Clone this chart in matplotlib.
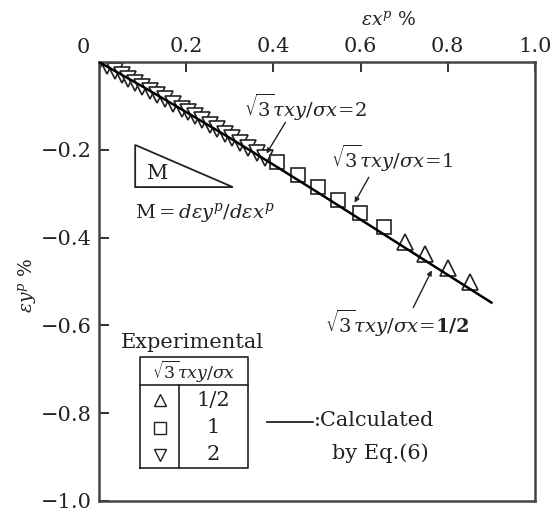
import matplotlib
matplotlib.use("Agg")
import matplotlib.pyplot as plt
from matplotlib.patches import Polygon

plt.rcParams['font.family'] = 'DejaVu Serif'
plt.rcParams['mathtext.fontset'] = 'dejavuserif'

# calculated curve, Eq.(6)
calc_x = [0.0, 0.1, 0.2, 0.3, 0.4, 0.5, 0.6, 0.7, 0.8, 0.9]
calc_y = [0.0, -0.056, -0.114, -0.173, -0.234, -0.296, -0.359, -0.422, -0.485, -0.548]

# experimental, sqrt(3) tau/sigma = 2
ratio2_x = [0.0, 0.018, 0.037, 0.053, 0.067, 0.083, 0.099, 0.117, 0.133, 0.151, 0.170, 0.190,
            0.204, 0.220, 0.236, 0.255, 0.271, 0.289, 0.305, 0.323, 0.342, 0.362, 0.381]
ratio2_y = [0.0, -0.010, -0.021, -0.030, -0.038, -0.047, -0.056, -0.066, -0.075, -0.085, -0.096, -0.107,
            -0.115, -0.124, -0.133, -0.144, -0.153, -0.164, -0.173, -0.184, -0.195, -0.207, -0.218]

# sqrt(3) tau/sigma = 1
ratio1_x = [0.408, 0.456, 0.502, 0.548, 0.599, 0.654]
ratio1_y = [-0.228, -0.257, -0.285, -0.314, -0.344, -0.376]

# sqrt(3) tau/sigma = 1/2
ratio05_x = [0.702, 0.748, 0.800, 0.851]
ratio05_y = [-0.410, -0.437, -0.469, -0.501]

table_marks = ['^', 's', 'v']
table_vals = ['1/2', '1', '2']

ink = '#222222'
fs = 15

fig = plt.figure(figsize=(5.58, 5.11), dpi=100)
ax = fig.add_axes([0.1774, 0.0196, 0.7814, 0.8591])

mk = dict(ls='none', mfc='white', mec=ink, mew=1.2)
ax.plot(ratio2_x, ratio2_y, marker='v', ms=11, **mk)
ax.plot(ratio1_x, ratio1_y, marker='s', ms=9.5, **mk)
ax.plot(ratio05_x, ratio05_y, marker='^', ms=11, **mk)
ax.plot(calc_x, calc_y, color='black', lw=1.8, zorder=3)

ax.set_xlim(0, 1.0)
ax.set_ylim(-1.0, 0)
ax.xaxis.tick_top()
ax.set_xticks([0.2, 0.4, 0.6, 0.8, 1.0])
ax.set_xticklabels(['0.2', '0.4', '0.6', '0.8', '1.0'])
ax.set_yticks([-0.2, -0.4, -0.6, -0.8, -1.0])
ax.set_yticklabels(['\u22120.2', '\u22120.4', '\u22120.6', '\u22120.8', '\u22121.0'])
ax.tick_params(direction='in', length=7, width=1.3, colors=ink, labelsize=fs, pad=5)
ax.tick_params(axis='x', pad=4)
for s in ax.spines.values():
    s.set_linewidth(1.8)
    s.set_color('#444444')

ax.text(-0.037, 1.034, '0', transform=ax.transAxes, ha='center', va='center',
        fontsize=fs, color=ink)
ax.text(0.665, 1.095, r'$\varepsilon x^{p}$ %', transform=ax.transAxes, ha='center',
        va='center', fontsize=13.5, color=ink)
ax.text(-0.165, 0.492, r'$\varepsilon y^{p}$ %', transform=ax.transAxes, ha='center',
        va='center', rotation=90, fontsize=13.5, color=ink)

# ratio labels with leaders
lab = r'$\sqrt{3}\tau xy/\sigma x\!=\!%s$'
arrow = dict(arrowstyle='-|>', color=ink, lw=1.0, mutation_scale=7)
ax.text(0.472, -0.103, lab % '2', ha='center', va='center', fontsize=14, color=ink)
ax.annotate('', xy=(0.381, -0.214), xytext=(0.431, -0.132), arrowprops=arrow)
ax.text(0.672, -0.22, lab % '1', ha='center', va='center', fontsize=14, color=ink)
ax.annotate('', xy=(0.583, -0.326), xytext=(0.622, -0.257), arrowprops=arrow)
ax.text(0.683, -0.595, lab % '\\mathbf{1/2}', ha='center', va='center', fontsize=14, color=ink)
ax.annotate('', xy=(0.766, -0.469), xytext=(0.718, -0.565), arrowprops=arrow)

# slope triangle
ax.add_patch(Polygon([(0.083, 0.811), (0.083, 0.715), (0.307, 0.715)], closed=True,
                     fill=False, ec=ink, lw=1.3, transform=ax.transAxes))
ax.text(0.135, 0.745, 'M', transform=ax.transAxes, ha='center', va='center',
        fontsize=fs, color=ink)
ax.text(0.243, 0.655, r'M$=d\varepsilon y^{p}/d\varepsilon x^{p}$', transform=ax.transAxes,
        ha='center', va='center', fontsize=14, color=ink)

# key table
ax.text(0.213, 0.362, 'Experimental', transform=ax.transAxes, ha='center', va='center',
        fontsize=fs, color=ink)
tl = dict(color=ink, lw=1.2, transform=ax.transAxes)
x0, x1, xc = 0.094, 0.342, 0.183
y0, y1, yh = 0.075, 0.328, 0.264
ax.plot([x0, x1, x1, x0, x0], [y0, y0, y1, y1, y0], **tl)
ax.plot([x0, x1], [yh, yh], **tl)
ax.plot([xc, xc], [y0, yh], **tl)
ax.text((x0 + x1) / 2, 0.294, r'$\sqrt{3}\tau xy/\sigma x$', transform=ax.transAxes,
        ha='center', va='center', fontsize=12.5, color=ink)
row_y = [0.230, 0.167, 0.105]
for m, v, ry in zip(table_marks, table_vals, row_y):
    ax.plot([0.140], [ry], marker=m, ms=8, mfc='white', mec=ink, mew=1.0,
            transform=ax.transAxes)
    ax.text(0.261, ry, v, transform=ax.transAxes, ha='center', va='center',
            fontsize=fs, color=ink)

ax.plot([0.385, 0.49], [0.180, 0.180], color=ink, lw=1.3, transform=ax.transAxes)
ax.text(0.492, 0.183, ':Calculated', transform=ax.transAxes, ha='left', va='center',
        fontsize=fs, color=ink)
ax.text(0.534, 0.109, 'by Eq.(6)', transform=ax.transAxes, ha='left', va='center',
        fontsize=fs, color=ink)

fig.savefig('out.png', dpi=100)
